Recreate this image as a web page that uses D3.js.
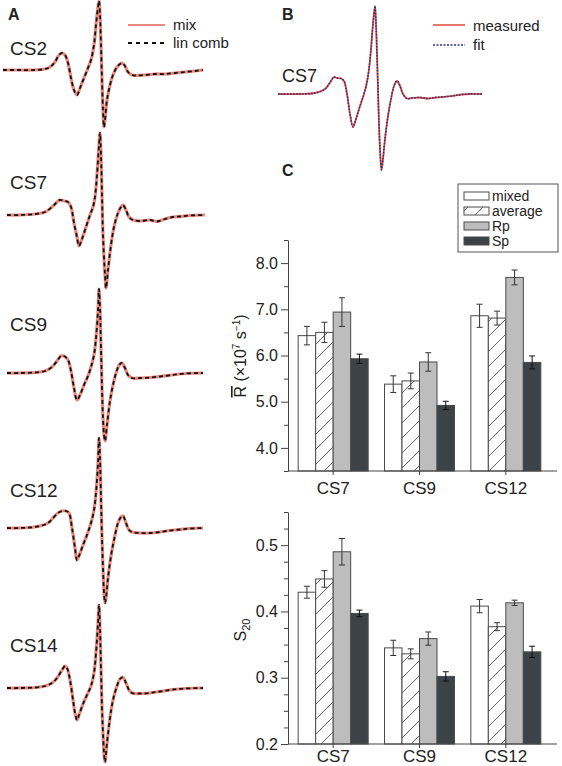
<!DOCTYPE html>
<html><head><meta charset="utf-8">
<script src="https://cdn.jsdelivr.net/npm/d3@7"></script>
<style>
body{margin:0;background:#fff}
svg{display:block}
text{font-family:Arial,"Liberation Sans",Helvetica,sans-serif;fill:#222}
</style>
</head><body>
<svg id="c" width="562" height="766"></svg>
<script>
// ---------------- DATA ----------------
// Panel A: spectra, [field position, amplitude]
const waveCS2 = [[3,0],[20,0],[35,0],[45,1],[50,3],[55,8],[59,15],[62,17],[65,15],[68,7],[71,-8],[74,-20],[77,-25],[80,-18],[84,-8],[88,2],[91,10],[94,25],[96,45],[98,63],[99,69],[100,55],[101,25],[102,-10],[103,-40],[104,-57],[105,-50],[107,-30],[110,-15],[113,-5],[117,3],[120,6],[122,7],[125,4],[128,-2],[132,-5],[137,-5.5],[145,-5],[155,-4],[165,-4],[175,-3],[185,-2],[195,-1],[203,0]];
const waveCS7 = [[7,0],[20,0],[35,1],[45,3],[52,8],[57,13],[60,15],[64,14],[68,13],[71,8],[74,-8],[77,-22],[79,-31],[82,-24],[86,-12],[90,0],[93,8],[95,18],[97,40],[99,70],[100,82],[101,60],[102,20],[103,-20],[105,-60],[106,-73],[108,-55],[111,-30],[114,-12],[118,2],[121,8],[123,10],[126,5],[129,-2],[133,-5],[140,-6],[150,-5],[157,-6.5],[165,-4],[173,-2],[180,-1.5],[190,-0.5],[205,0]];
const waveCS9 = [[7,0],[20,0],[35,0.5],[45,2],[52,6],[57,12],[61,17],[64,17],[68,13],[71,2],[74,-15],[77,-27],[80,-22],[84,-12],[88,-3],[91,6],[94,18],[96,35],[98,62],[99,84],[100,65],[101,25],[102,-15],[103,-45],[104,-62],[105,-68],[107,-52],[110,-28],[113,-12],[117,3],[120,9],[122,10],[125,5],[128,-2],[132,-5],[140,-5],[150,-4.5],[160,-3.5],[172,-2],[185,-0.5],[203,0]];
const waveCS12 = [[7,0],[20,0],[30,0.5],[40,2],[48,5],[53,10],[58,15],[62,17],[66,17],[69,15],[72,0],[75,-20],[77,-32],[79,-28],[83,-17],[87,-7],[91,5],[94,18],[96,35],[98,65],[99,90],[100,70],[101,30],[102,-10],[103,-40],[104,-65],[105,-75],[106,-70],[108,-50],[111,-28],[114,-12],[118,5],[121,11],[123,12],[126,5],[129,-2],[132,-4],[140,-5],[150,-5],[160,-4],[170,-2.5],[180,-1.5],[190,-0.5],[203,0]];
const waveCS14 = [[7,0],[20,0],[35,0.5],[45,2],[52,5],[57,10],[62,18],[65,22],[67,20],[70,8],[73,-12],[75,-25],[77,-32],[79,-27],[83,-16],[87,-7],[91,2],[94,15],[96,35],[98,65],[99,83],[100,60],[101,20],[102,-20],[103,-45],[104,-65],[105,-74],[107,-55],[110,-30],[113,-12],[117,2],[120,9],[123,10.5],[126,5],[129,-2],[132,-5],[140,-5.5],[150,-5],[160,-3.5],[173,-1.5],[185,-0.5],[203,0]];
const waveNamesA = ["CS2","CS7","CS9","CS12","CS14"];
// Panel B: CS7 measured / fit
const waveB = [[278,0],[300,0],[315,1],[325,5],[331,13],[334,17],[337,16],[341,15.5],[344,13],[347,0],[350,-20],[353,-33],[356,-25],[360,-12],[364,0],[367,12],[369,25],[371,45],[373,70],[375,88],[376,70],[377,40],[378,5],[379,-30],[380,-55],[381.5,-76],[383,-65],[385,-45],[388,-22],[391,-5],[394,8],[397,13],[400,8],[403,0],[407,-4.5],[412,-4],[420,-3.5],[428,-4.5],[436,-3.5],[446,-2.7],[455,-1.5],[462,-0.5],[470,0],[482,0]];

// Panel C: bar data
const categories = ["CS7","CS9","CS12"];
const seriesNames = ["mixed","average","Rp","Sp"];
const rValues = [[6.43,6.50,6.94,5.93],[5.38,5.45,5.86,4.92],[6.86,6.81,7.69,5.85]];
const rErrors = [[0.20,0.22,0.31,0.10],[0.18,0.17,0.20,0.09],[0.25,0.15,0.16,0.14]];
const sValues = [[0.429,0.449,0.490,0.397],[0.345,0.336,0.359,0.302],[0.408,0.377,0.413,0.339]];
const sErrors = [[0.009,0.0125,0.020,0.005],[0.0115,0.0075,0.010,0.007],[0.010,0.006,0.004,0.0085]];
const rTicks = [4.0,5.0,6.0,7.0,8.0];
const rMinorTicks = [3.5,4.5,5.5,6.5,7.5,8.5];
const sTicks = [0.2,0.3,0.4,0.5];
const sMinorTicks = [0.225,0.25,0.275,0.325,0.35,0.375,0.425,0.45,0.475,0.525,0.55];

// ---------------- DRAW ----------------
const svg = d3.select("#c");
const defs = svg.append("defs");
const pat = defs.append("pattern").attr("id","hatch").attr("patternUnits","userSpaceOnUse")
  .attr("width",15).attr("height",15);
pat.append("rect").attr("width",15).attr("height",15).attr("fill","#fff");
pat.append("path").attr("d","M-4,4 L4,-4 M0,15 L15,0 M11,19 L19,11").attr("stroke","#666").attr("stroke-width",1);

const mixColor = "#e8897d";
// Panel A
const xA = d3.scaleLinear().domain([0,210]).range([0,210]);
const baseA = [70,215,373,528,688];
const labelYA = [55,189,331,497,652];
const wavesA = [waveCS2,waveCS7,waveCS9,waveCS12,waveCS14];
wavesA.forEach((w,i)=>{
  const y = d3.scaleLinear().domain([-100,100]).range([baseA[i]+100, baseA[i]-100]);
  const line = d3.line().x(d=>xA(d[0])).y(d=>y(d[1])).curve(d3.curveCatmullRom.alpha(0.5));
  svg.append("path").attr("d",line(w)).attr("fill","none").attr("stroke",mixColor).attr("stroke-width",3.2).attr("stroke-linejoin","round");
  svg.append("path").attr("d",line(w)).attr("fill","none").attr("stroke","#111").attr("stroke-width",1.8).attr("stroke-dasharray","4,3");
  svg.append("text").attr("x",10).attr("y",labelYA[i]).attr("font-size",19).text(waveNamesA[i]);
});
svg.append("text").attr("x",8).attr("y",20).attr("font-size",16).attr("font-weight","bold").text("A");
// legend A
svg.append("line").attr("x1",128).attr("x2",165).attr("y1",25).attr("y2",25).attr("stroke",mixColor).attr("stroke-width",2);
svg.append("line").attr("x1",128).attr("x2",165).attr("y1",43).attr("y2",43).attr("stroke","#111").attr("stroke-width",2).attr("stroke-dasharray","4,4");
svg.append("text").attr("x",173).attr("y",30).attr("font-size",15).text("mix");
svg.append("text").attr("x",173).attr("y",48).attr("font-size",15).text("lin comb");

// Panel B
const xB = d3.scaleLinear().domain([270,490]).range([270,490]);
const yB = d3.scaleLinear().domain([-100,100]).range([94+100, 94-100]);
const lineB = d3.line().x(d=>xB(d[0])).y(d=>yB(d[1])).curve(d3.curveCatmullRom.alpha(0.5));
svg.append("path").attr("d",lineB(waveB)).attr("fill","none").attr("stroke","#dd4a3c").attr("stroke-width",1.8);
svg.append("path").attr("d",lineB(waveB)).attr("fill","none").attr("stroke","#2b2f86").attr("stroke-width",1.5).attr("stroke-dasharray","1.5,1.5");
svg.append("text").attr("x",282).attr("y",82).attr("font-size",18).text("CS7");
svg.append("text").attr("x",282).attr("y",20).attr("font-size",16).attr("font-weight","bold").text("B");
svg.append("line").attr("x1",433).attr("x2",465).attr("y1",25).attr("y2",25).attr("stroke","#dd4a3c").attr("stroke-width",1.5);
svg.append("line").attr("x1",433).attr("x2",465).attr("y1",45).attr("y2",45).attr("stroke","#2b2f86").attr("stroke-width",1.5).attr("stroke-dasharray","2,1.5");
svg.append("text").attr("x",473).attr("y",31).attr("font-size",15).text("measured");
svg.append("text").attr("x",473).attr("y",50).attr("font-size",15).text("fit");

// Panel C
svg.append("text").attr("x",282).attr("y",176).attr("font-size",16).attr("font-weight","bold").text("C");
const fills = ["#ffffff","url(#hatch)","#bdbdbd","#3c4245"];
const axisX0 = 288, axisX1 = 557;
const x0 = d3.scaleBand().domain(categories).range([290,549]).padding(0);
const x1 = d3.scaleBand().domain(seriesNames).range([0,70]).padding(0);

function barChart(yScale, values, errors, ticks, minor, fmt, catY){
  const g = svg.append("g");
  const yBottom = yScale.range()[0];
  categories.forEach((c,ci)=>{
    const gx = x0(c) + x0.bandwidth()/2 - 35;
    seriesNames.forEach((s,si)=>{
      const v = values[ci][si], e = errors[ci][si];
      const bx = gx + x1(s);
      g.append("rect").attr("x",bx).attr("y",yScale(v)).attr("width",x1.bandwidth()).attr("height",yBottom-yScale(v))
        .attr("fill",fills[si]).attr("stroke","#4a4a4a").attr("stroke-width",1);
      const cx = bx + x1.bandwidth()/2;
      const col = si===3 ? "#111" : "#333";
      g.append("line").attr("x1",cx).attr("x2",cx).attr("y1",yScale(v+e)).attr("y2",yScale(v-e)).attr("stroke",col).attr("stroke-width",1);
      [v+e,v-e].forEach(t=>g.append("line").attr("x1",cx-3).attr("x2",cx+3).attr("y1",yScale(t)).attr("y2",yScale(t)).attr("stroke",col).attr("stroke-width",1));
    });
  });
  const ya = g.append("g").attr("transform",`translate(${axisX0},0)`)
    .call(d3.axisLeft(yScale).tickValues(ticks).tickFormat(fmt).tickSize(7).tickSizeOuter(0));
  ya.select(".domain").attr("stroke","#444");
  ya.selectAll(".tick line").attr("stroke","#444");
  ya.selectAll(".tick text").attr("font-size",16).attr("fill","#222").attr("x",-10)
    .style("font-family","Arial, 'Liberation Sans', sans-serif");
  const ym = g.append("g").attr("transform",`translate(${axisX0},0)`)
    .call(d3.axisLeft(yScale).tickValues(minor).tickFormat("").tickSize(4).tickSizeOuter(0));
  ym.select(".domain").remove();
  ym.selectAll(".tick line").attr("stroke","#444");
  g.append("line").attr("x1",axisX0).attr("x2",axisX1).attr("y1",yBottom).attr("y2",yBottom).attr("stroke","#444");
  const xa = g.append("g").attr("transform",`translate(0,${yBottom})`)
    .call(d3.axisBottom(x0).tickSize(4).tickSizeOuter(0));
  xa.select(".domain").remove();
  xa.selectAll(".tick line").attr("stroke","#444");
  xa.selectAll(".tick text").attr("font-size",17).attr("fill","#222").attr("y",catY)
    .style("font-family","Arial, 'Liberation Sans', sans-serif");
}
const yR = d3.scaleLinear().domain([3.5,8.5]).range([471,240]);
const yS = d3.scaleLinear().domain([0.2,0.55]).range([744,512]);
barChart(yR, rValues, rErrors, rTicks, rMinorTicks, d3.format(".1f"), 11);
barChart(yS, sValues, sErrors, sTicks, sMinorTicks, d3.format(".1f"), 6);

// axis titles
const tR = svg.append("text").attr("transform","translate(246,356) rotate(-90)").attr("text-anchor","middle").attr("font-size",16);
tR.append("tspan").style("text-decoration","overline").text("R");
tR.append("tspan").text(" (×10");
tR.append("tspan").attr("dy",-6).attr("font-size",10).text("7");
tR.append("tspan").attr("dy",6).text(" s");
tR.append("tspan").attr("dy",-6).attr("font-size",10).text("−1");
tR.append("tspan").attr("dy",6).text(")");
const tS = svg.append("text").attr("transform","translate(246,630) rotate(-90)").attr("text-anchor","middle").attr("font-size",16);
tS.append("tspan").text("S");
tS.append("tspan").attr("dy",4).attr("font-size",11).text("20");

// legend C
const lg = svg.append("g");
lg.append("rect").attr("x",458).attr("y",184).attr("width",100).attr("height",68).attr("fill","#fff").attr("stroke","#555");
const legY = d3.scalePoint().domain(seriesNames).range([196,241]);
seriesNames.forEach((s,i)=>{
  lg.append("rect").attr("x",464).attr("y",legY(s)-4).attr("width",25).attr("height",8).attr("fill",fills[i]).attr("stroke","#4a4a4a");
  lg.append("text").attr("x",492).attr("y",legY(s)+4.5).attr("font-size",14).text(s);
});
</script>
</body></html>
